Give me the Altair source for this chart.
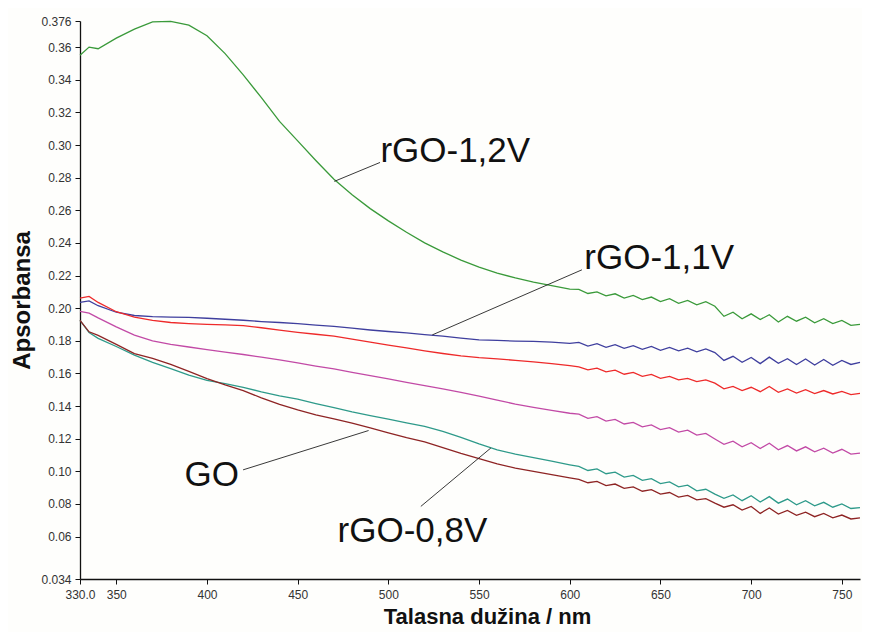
import altair as alt
import pandas as pd

# wavelength grid (nm)
wavelengths = [330, 335, 340, 350, 360, 370, 380, 390, 400, 410, 420, 430, 440, 450,
               460, 470, 480, 490, 500, 510, 520, 530, 540, 550, 560, 570, 580, 590, 600,
               605, 610, 615, 620, 625, 630, 635, 640, 645, 650, 655, 660, 665, 670, 675, 680,
               685, 690, 695, 700, 705, 710, 715, 720, 725, 730, 735, 740, 745, 750, 755, 760]

green = [0.355, 0.360, 0.359, 0.3655, 0.371, 0.3755, 0.3758, 0.3735, 0.367, 0.356, 0.343, 0.329,
         0.3145, 0.3025, 0.2905, 0.279, 0.2695, 0.261, 0.2535, 0.2465, 0.2400, 0.2345, 0.2295,
         0.2252, 0.2215, 0.2185, 0.2160, 0.2138, 0.2117,
         0.2115, 0.2090, 0.2100, 0.2075, 0.2088, 0.2062, 0.2078, 0.2052, 0.2068, 0.2040, 0.2058,
         0.2030, 0.2048, 0.2020, 0.2040, 0.2012,
         0.1950, 0.1975, 0.1935, 0.1965, 0.1930, 0.1960, 0.1915, 0.1950, 0.1920, 0.1945, 0.1910,
         0.1935, 0.1905, 0.1925, 0.1895, 0.1900]

blue = [0.2035, 0.2045, 0.2015, 0.1975, 0.1955, 0.1948, 0.1945, 0.1943, 0.1938, 0.1932, 0.1926,
        0.1918, 0.1912, 0.1905, 0.1896, 0.1888, 0.1877, 0.1866, 0.1857, 0.1848, 0.1838, 0.1828,
        0.1816, 0.1806, 0.1802, 0.1798, 0.1796, 0.1792, 0.1784,
        0.1790, 0.1768, 0.1782, 0.1760, 0.1776, 0.1754, 0.1770, 0.1748, 0.1765, 0.1742, 0.1760,
        0.1738, 0.1755, 0.1732, 0.1750, 0.1728,
        0.1680, 0.1705, 0.1668, 0.1698, 0.1660, 0.1700, 0.1662, 0.1690, 0.1655, 0.1688, 0.1652,
        0.1685, 0.1650, 0.1680, 0.1655, 0.1668]

red = [0.2062, 0.2072, 0.2035, 0.1978, 0.1945, 0.1925, 0.1912, 0.1905, 0.1900, 0.1897, 0.1893,
       0.1880, 0.1866, 0.1852, 0.1840, 0.1828, 0.1810, 0.1792, 0.1774, 0.1756, 0.1738, 0.1722,
       0.1708, 0.1697, 0.1689, 0.1680, 0.1671, 0.1660, 0.1648,
       0.1640, 0.1622, 0.1632, 0.1610, 0.1620, 0.1595, 0.1606, 0.1582, 0.1594, 0.1570, 0.1582,
       0.1560, 0.1570, 0.1550, 0.1560, 0.1540,
       0.1505, 0.1520, 0.1495, 0.1515, 0.1488, 0.1520, 0.1484, 0.1505, 0.1480, 0.1500, 0.1476,
       0.1495, 0.1474, 0.1490, 0.1470, 0.1478]

magenta = [0.1980, 0.1970, 0.1940, 0.1885, 0.1835, 0.1800, 0.1778, 0.1762, 0.1746, 0.1731,
           0.1716, 0.1700, 0.1683, 0.1664, 0.1645, 0.1628, 0.1607, 0.1587, 0.1566, 0.1545,
           0.1525, 0.1505, 0.1484, 0.1461, 0.1436, 0.1412, 0.1392, 0.1374, 0.1356,
           0.1350, 0.1325, 0.1335, 0.1308, 0.1318, 0.1290, 0.1300, 0.1272, 0.1284, 0.1256, 0.1268,
           0.1240, 0.1252, 0.1222, 0.1232, 0.1198,
           0.1165, 0.1185, 0.1150, 0.1175, 0.1140, 0.1172, 0.1132, 0.1158, 0.1125, 0.1150, 0.1120,
           0.1142, 0.1112, 0.1135, 0.1105, 0.1112]

teal = [0.1925, 0.1850, 0.1815, 0.1765, 0.1712, 0.1668, 0.1630, 0.1590, 0.1558, 0.1538, 0.1515,
        0.1487, 0.1463, 0.1442, 0.1415, 0.1390, 0.1364, 0.1342, 0.1320, 0.1297, 0.1276, 0.1245,
        0.1208, 0.1168, 0.1132, 0.1105, 0.1084, 0.1062, 0.1040,
        0.1030, 0.1005, 0.1015, 0.0985, 0.0995, 0.0965, 0.0975, 0.0945, 0.0955, 0.0925, 0.0935,
        0.0905, 0.0915, 0.0880, 0.0890, 0.0860,
        0.0835, 0.0855, 0.0820, 0.0850, 0.0812, 0.0845, 0.0805, 0.0830, 0.0795, 0.0820, 0.0788,
        0.0810, 0.0780, 0.0800, 0.0772, 0.0778]

darkred = [0.1925, 0.1855, 0.1833, 0.1778, 0.1722, 0.1692, 0.1655, 0.1612, 0.1568, 0.1530,
           0.1495, 0.1450, 0.1410, 0.1376, 0.1346, 0.1322, 0.1295, 0.1266, 0.1236, 0.1206,
           0.1180, 0.1145, 0.1110, 0.1078, 0.1046, 0.1020, 0.1000, 0.0980, 0.0960,
           0.0950, 0.0930, 0.0938, 0.0912, 0.0922, 0.0895, 0.0905, 0.0878, 0.0888, 0.0860, 0.0870,
           0.0842, 0.0852, 0.0825, 0.0832, 0.0805,
           0.0780, 0.0795, 0.0762, 0.0785, 0.0742, 0.0775, 0.0738, 0.0760, 0.0730, 0.0750, 0.0722,
           0.0742, 0.0715, 0.0732, 0.0708, 0.0715]

series_names = ["rGO-1,2V", "rGO-1,1V", "red", "magenta", "rGO-0,8V", "GO"]
series_values = [green, blue, red, magenta, teal, darkred]
series_colors = ["#3a9a3a", "#3f3f9e", "#ee2a2a", "#c24aa6", "#2e9a8a", "#8e2424"]

# annotation labels: text, x (nm), y (absorbance, baseline)
label_text = ["rGO-1,2V", "rGO-1,1V", "GO", "rGO-0,8V"]
label_x = [495.6, 608.0, 387.6, 472.0]
label_y = [0.2893, 0.2241, 0.0907, 0.0565]

# leader lines: from label point to curve point
leader_x1 = [495.4, 606.7, 419.9, 517.9]
leader_y1 = [0.2893, 0.2235, 0.1009, 0.0785]
leader_x2 = [470.2, 524.2, 489.1, 556.5]
leader_y2 = [0.2777, 0.1836, 0.1250, 0.1143]

x_ticks = [330, 350, 400, 450, 500, 550, 600, 650, 700, 750]
y_ticks = [0.034, 0.06, 0.08, 0.10, 0.12, 0.14, 0.16, 0.18, 0.20, 0.22, 0.24, 0.26, 0.28,
           0.30, 0.32, 0.34, 0.36, 0.376]

rows = []
for name, vals in zip(series_names, series_values):
    for w, v in zip(wavelengths, vals):
        rows.append({"x": w, "y": v, "series": name})
df = pd.DataFrame(rows)

labels_df = pd.DataFrame({"x": label_x, "y": label_y, "t": label_text})
leaders_df = pd.DataFrame({"x": leader_x1, "y": leader_y1, "x2": leader_x2, "y2": leader_y2})

xscale = alt.Scale(domain=[330, 760], nice=False, zero=False)
yscale = alt.Scale(domain=[0.034, 0.376], nice=False, zero=False)

FONT = "Liberation Sans"

x_axis = alt.Axis(
    values=x_ticks,
    labelExpr="datum.value == 330 ? '330.0' : datum.label",
    title="Talasna dužina / nm",
    titleFont=FONT, titleFontSize=22, titleFontWeight="bold", titleColor="#111",
    titlePadding=6, titleX=407, titleAnchor="middle",
    labelFont=FONT, labelFontSize=12, labelColor="#333", labelPadding=5,
    labelFlush=False, labelOverlap=False,
    tickColor="#111", tickSize=5, domainColor="#111", domainWidth=1.3, grid=False,
)
y_axis = alt.Axis(
    values=y_ticks,
    labelExpr="abs(datum.value - 0.034) < 1e-6 ? '0.034' : (abs(datum.value - 0.376) < 1e-6 ? '0.376' : format(datum.value, '.2f'))",
    title="Apsorbansa",
    titleFont=FONT, titleFontSize=24, titleFontWeight="bold", titleColor="#111",
    titlePadding=6,
    labelFont=FONT, labelFontSize=12, labelColor="#333", labelPadding=4,
    labelOverlap=False, labelFlush=False,
    tickColor="#111", tickSize=5, domainColor="#111", domainWidth=1.3, grid=False,
)

X = alt.X("x:Q", scale=xscale, axis=x_axis)
Y = alt.Y("y:Q", scale=yscale, axis=y_axis)

lines = alt.Chart(df).mark_line(strokeWidth=1.3).encode(
    x=X,
    y=Y,
    color=alt.Color("series:N", scale=alt.Scale(domain=series_names, range=series_colors), legend=None),
    order=alt.Order("x:Q"),
)

leaders = alt.Chart(leaders_df).mark_rule(color="#222", strokeWidth=0.9).encode(
    x=X,
    y=Y,
    x2="x2:Q",
    y2="y2:Q",
)

labels = alt.Chart(labels_df).mark_text(
    align="left", baseline="alphabetic", font=FONT, fontSize=35, color="#111"
).encode(
    x=X,
    y=Y,
    text="t:N",
)

chart = alt.layer(lines, leaders, labels).properties(
    width=780,
    height=558,
    padding={"left": 72, "top": 13, "right": 2, "bottom": 53},
    autosize=alt.AutoSizeParams(type="none"),
    background="#fefefc",
).configure_view(stroke=None)

chart.save("out.html", embed_options={"renderer": "svg", "actions": False})
